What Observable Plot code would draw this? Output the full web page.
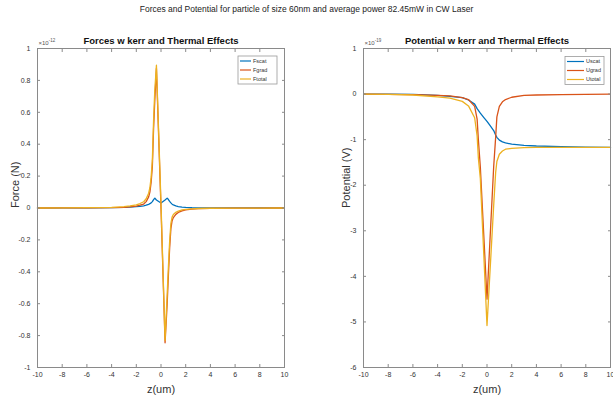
<!DOCTYPE html>
<html><head><meta charset="utf-8">
<script src="https://cdn.jsdelivr.net/npm/d3@7"></script>
<script src="https://cdn.jsdelivr.net/npm/@observablehq/plot@0.6"></script>
<style>
html,body{margin:0;padding:0;background:#fff;}
#wrap{position:relative;width:613px;height:399px;overflow:hidden;font-family:"Liberation Sans Narrow","Liberation Sans",Arial,sans-serif;}
#title{position:absolute;left:0;top:4px;width:613px;text-align:center;font-size:8.5px;line-height:10px;color:#222;}
#left{position:absolute;left:0;top:0;}
#right{position:absolute;left:310px;top:0;}
</style></head><body>
<div id="wrap"><div id="left"></div><div id="right"></div>
<div id="title">Forces and Potential for particle of size 60nm and average power 82.45mW in CW Laser</div></div>
<script>
const NARROW = '"Liberation Sans Narrow","Liberation Sans",Arial,sans-serif';
const REG = '"Liberation Sans",Arial,sans-serif';

// ---- Forces panel (units of 1e-12 N) ----
const zF = [-10,-8,-6,-4,-3,-2.5,-2,-1.7,-1.4,-1.2,-1,-0.9,-0.8,-0.7,-0.6,-0.5,-0.37,0,0.33,0.5,0.6,0.7,0.8,0.9,1,1.2,1.4,1.7,2,2.5,3,4,6,8,10];
const Fscat = [0,0.0005,0.001,0.002,0.004,0.006,0.008,0.01,0.014,0.018,0.023,0.027,0.032,0.04,0.052,0.062,0.05,0.031,0.05,0.062,0.053,0.042,0.032,0.024,0.019,0.013,0.009,0.006,0.004,0.002,0.001,0.0005,0.0002,0.0001,0];
const Fgrad = [0,0.0003,0.0008,0.002,0.004,0.007,0.012,0.018,0.025,0.04,0.07,0.1,0.16,0.26,0.5,0.68,0.875,0,-0.845,-0.6,-0.42,-0.25,-0.13,-0.08,-0.06,-0.04,-0.028,-0.018,-0.012,-0.007,-0.004,-0.002,-0.0008,-0.0003,0];
const Ftotal = [0,0.0008,0.0018,0.004,0.008,0.013,0.02,0.028,0.039,0.058,0.093,0.127,0.192,0.3,0.552,0.742,0.895,0.03,-0.83,-0.54,-0.367,-0.208,-0.098,-0.056,-0.041,-0.027,-0.019,-0.012,-0.008,-0.005,-0.003,-0.0015,-0.0006,-0.0002,0];

// ---- Potential panel (units of 1e-19 V) ----
const zUscat = [-10,-8,-6,-4,-3,-2,-1.5,-1,-0.8,-0.54,-0.27,0,0.27,0.54,0.7,0.8,1,1.25,1.5,2,3,4,6,8,10];
const Uscat = [0,-0.002,-0.008,-0.03,-0.05,-0.08,-0.13,-0.22,-0.32,-0.42,-0.51,-0.6,-0.7,-0.8,-0.9,-0.95,-1.01,-1.05,-1.07,-1.1,-1.125,-1.14,-1.155,-1.165,-1.17];
const zU = [-10,-8,-6,-4,-3,-2,-1.5,-1,-0.8,-0.7,-0.54,0,0.54,0.7,0.8,1,1.25,1.5,2,3,4,6,8,10];
const Ugrad = [0,-0.005,-0.01,-0.03,-0.04,-0.08,-0.12,-0.27,-0.55,-1.0,-1.6,-4.5,-1.6,-0.95,-0.5,-0.27,-0.17,-0.12,-0.07,-0.03,-0.02,-0.01,-0.005,0];
const Utotal = [0,-0.007,-0.02,-0.06,-0.09,-0.16,-0.26,-0.52,-0.92,-1.4,-1.85,-5.08,-2.45,-1.72,-1.48,-1.32,-1.25,-1.21,-1.19,-1.175,-1.17,-1.17,-1.17,-1.17];

const xTicks = [-10,-8,-6,-4,-2,0,2,4,6,8,10];
const yTicksF = [-1,-0.8,-0.6,-0.4,-0.2,0,0.2,0.4,0.6,0.8,1];
const yTicksU = [-6,-5,-4,-3,-2,-1,0,1];
const namesF = ["Fscat","Fgrad","Ftotal"];
const namesU = ["Uscat","Ugrad","Utotal"];
const colors = ["#0072BD","#D95319","#EDB120"];

function rows(pairs){
  const out = [];
  for (const [name, zs, vs] of pairs) zs.forEach((z,i)=>out.push({z, v: vs[i], s: name}));
  return out;
}

function panel(el, cfg){
  const W = cfg.width, H = 399;
  const axisColor = "#8a8a8a";
  const plot = Plot.plot({
    width: W, height: H,
    marginLeft: cfg.ml, marginRight: cfg.mr, marginTop: 48, marginBottom: 32,
    style: {fontFamily: NARROW, fontSize: "7px", color: "#333", background: "transparent", overflow: "visible"},
    x: {domain: [-10, 10]},
    y: {domain: cfg.yDomain},
    color: {domain: cfg.names, range: colors},
    marks: [
      Plot.line(cfg.data, {x: "z", y: "v", z: "s", stroke: "s", strokeWidth: 1.3, curve: "linear"}),
      Plot.frame({stroke: axisColor}),
      Plot.axisX({ticks: xTicks, tickSize: -3, tickPadding: 8, tickFormat: d => String(d), label: null, stroke: axisColor, fill: "#333"}),
      Plot.axisX({anchor: "top", ticks: xTicks, tickSize: -3, tickFormat: () => "", label: null, stroke: axisColor}),
      Plot.axisY({ticks: cfg.yTicks, tickSize: -3, tickPadding: 10, tickFormat: d => String(d), label: null, stroke: axisColor, fill: "#333"}),
      Plot.axisY({anchor: "right", ticks: cfg.yTicks, tickSize: -3, tickFormat: () => "", label: null, stroke: axisColor}),
      Plot.text([cfg.title], {frameAnchor: "top", dy: -8, fontWeight: "bold", fontSize: 9.5, fill: "#111", lineAnchor: "middle"}),
      Plot.text([cfg.ylabel], {frameAnchor: "left", rotate: -90, dx: cfg.ylabelDx, fontSize: 11, fontFamily: REG, fill: "#333", lineAnchor: "middle"}),
      Plot.text(["z(um)"], {frameAnchor: "bottom", dy: 21.5, fontSize: 11, fill: "#333", lineAnchor: "middle"})
    ]
  });
  const svg = d3.select(plot);
  // exponent label
  const ex = svg.append("text").attr("x", cfg.ml + 1.5).attr("y", 45).attr("text-anchor", "start")
    .attr("font-size", 6).attr("fill", "#555").attr("font-family", NARROW);
  ex.append("tspan").text("\u00d710");
  ex.append("tspan").attr("dy", -3).attr("font-size", 4.5).text(cfg.exp);
  // legend
  const lg = cfg.legend;
  const g = svg.append("g");
  g.append("rect").attr("x", lg.x).attr("y", lg.y).attr("width", lg.w).attr("height", lg.h)
    .attr("fill", "#fff").attr("stroke", "#9a9a9a").attr("stroke-width", 0.8);
  cfg.names.forEach((n, i) => {
    const yy = lg.y + 5 + i * 9;
    g.append("line").attr("x1", lg.x + 2).attr("x2", lg.x + 2 + lg.line).attr("y1", yy).attr("y2", yy)
      .attr("stroke", colors[i]).attr("stroke-width", 1.2);
    g.append("text").attr("x", lg.x + 4 + lg.line).attr("y", yy).attr("dy", "0.35em").attr("text-anchor", "start")
      .attr("font-size", 5.5).attr("fill", "#333").attr("font-family", NARROW).text(n);
  });
  el.appendChild(plot);
}

panel(document.getElementById("left"), {
  width: 300, ml: 37, mr: 16, yDomain: [-1, 1], yTicks: yTicksF, names: namesF,
  data: rows([["Fscat", zF, Fscat], ["Fgrad", zF, Fgrad], ["Ftotal", zF, Ftotal]]),
  title: "Forces w kerr and Thermal Effects", ylabel: "Force (N)", ylabelDx: -22, exp: "-12",
  legend: {x: 238, y: 56, w: 39, h: 28, line: 11}
});
panel(document.getElementById("right"), {
  width: 303, ml: 53, mr: 3, yDomain: [-6, 1], yTicks: yTicksU, names: namesU,
  data: rows([["Uscat", zUscat, Uscat], ["Ugrad", zU, Ugrad], ["Utotal", zU, Utotal]]),
  title: "Potential w kerr and Thermal Effects", ylabel: "Potential (V)", ylabelDx: -17, exp: "-19",
  legend: {x: 255, y: 56.5, w: 39, h: 28, line: 17}
});
</script>
</body></html>
